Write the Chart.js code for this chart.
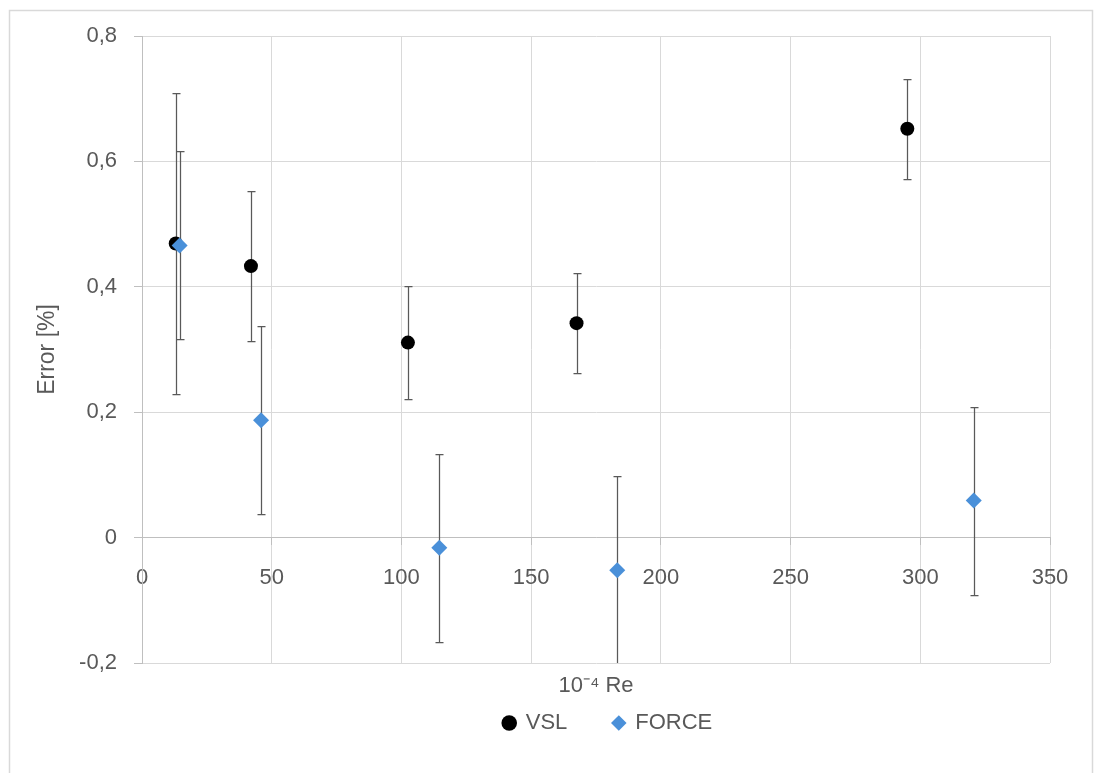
<!DOCTYPE html>
<html>
<head>
<meta charset="utf-8">
<script src="https://cdn.jsdelivr.net/npm/chart.js@4.4.0/dist/chart.umd.min.js"></script>
<style>
  html, body { margin: 0; padding: 0; background: #fff; }
  #wrap { width: 1100px; height: 773px; }
</style>
</head>
<body>
<div id="wrap"><canvas id="errChart" width="1100" height="773"></canvas></div>
<script>
// values
const vslRe = [13.0, 42.0, 102.5, 167.5, 295.0];
const vslError = [0.469, 0.433, 0.311, 0.342, 0.652];
const vslBar = [0.24, 0.12, 0.09, 0.08, 0.08];

const forceRe = [14.5, 45.9, 114.6, 183.2, 320.6];
const forceError = [0.466, 0.187, -0.016, -0.052, 0.059];
const forceBar = [0.15, 0.15, 0.15, 0.15, 0.15];

const xMin = 0, xMax = 350, xStep = 50;
const yMin = -0.2, yMax = 0.8, yStep = 0.2;

const toPoints = (xs, ys) => xs.map((x, i) => ({ x, y: ys[i] }));
const commaLabel = v => Math.abs(v) < 1e-9 ? '0' : v.toFixed(1).replace('.', ',');

Chart.defaults.font.family = '"Liberation Sans", Arial, sans-serif';
Chart.defaults.font.size = 22;
Chart.defaults.color = '#595959';

// outer chart frame
const frame = {
  id: 'frame',
  beforeDraw(chart) {
    const ctx = chart.ctx;
    ctx.save();
    ctx.strokeStyle = '#d9d9d9';
    ctx.lineWidth = 1.5;
    ctx.strokeRect(9.5, 10.5, 1083, 800);
    ctx.restore();
  }
};

// vertical error bars with caps
const errorBars = {
  id: 'errorBars',
  beforeDatasetsDraw(chart) {
    const { ctx, chartArea, scales: { x, y } } = chart;
    ctx.save();
    ctx.beginPath();
    ctx.rect(chartArea.left, chartArea.top, chartArea.width, chartArea.height);
    ctx.clip();
    ctx.strokeStyle = '#595959';
    ctx.lineWidth = 1.25;
    chart.data.datasets.forEach(ds => {
      ds.data.forEach((p, i) => {
        const px = Math.round(x.getPixelForValue(p.x)) + 0.5;
        const top = Math.round(y.getPixelForValue(p.y + ds.errorBars[i])) + 0.5;
        const bot = Math.round(y.getPixelForValue(p.y - ds.errorBars[i])) + 0.5;
        ctx.beginPath();
        ctx.moveTo(px, top); ctx.lineTo(px, bot);
        ctx.moveTo(px - 4, top); ctx.lineTo(px + 4, top);
        ctx.moveTo(px - 4, bot); ctx.lineTo(px + 4, bot);
        ctx.stroke();
      });
    });
    ctx.restore();
  }
};

// legend sits a little right of the plot centre
const legendShift = {
  id: 'legendShift',
  afterLayout(chart) {
    chart.legend.left += 12;
    chart.legend.right += 12;
  }
};

const ctx = document.getElementById('errChart').getContext('2d');
new Chart(ctx, {
  type: 'scatter',
  data: {
    datasets: [
      {
        label: 'VSL',
        data: toPoints(vslRe, vslError),
        errorBars: vslBar,
        order: 1,
        pointStyle: 'circle',
        pointRadius: 7,
        pointHoverRadius: 7,
        backgroundColor: '#000000',
        borderColor: '#000000',
        borderWidth: 0
      },
      {
        label: 'FORCE',
        data: toPoints(forceRe, forceError),
        errorBars: forceBar,
        order: 0,
        pointStyle: 'rectRot',
        pointRadius: 8,
        pointHoverRadius: 8,
        backgroundColor: '#4a90d9',
        borderColor: '#4a90d9',
        borderWidth: 0
      }
    ]
  },
  options: {
    responsive: false,
    animation: false,
    layout: { padding: { left: 0, top: 36, right: 50, bottom: 29 } },
    scales: {
      x: {
        type: 'linear',
        position: { y: 0 },
        min: xMin,
        max: xMax,
        ticks: { stepSize: xStep, padding: 20, color: '#595959' },
        grid: { color: '#d9d9d9', tickColor: '#bfbfbf', tickLength: 7 },
        border: { color: '#bfbfbf' }
      },
      y: {
        type: 'linear',
        position: 'left',
        min: yMin,
        max: yMax,
        ticks: { stepSize: yStep, padding: 17, color: '#595959', callback: v => commaLabel(v) },
        grid: { color: '#d9d9d9', tickColor: '#bfbfbf', tickLength: 8 },
        border: { color: '#bfbfbf' },
        title: { display: true, text: 'Error [%]', color: '#595959', font: { size: 23 }, padding: { top: 34, bottom: 0 } },
        afterFit(scale) { scale.width = 142; }
      }
    },
    plugins: {
      title: {
        display: true,
        position: 'bottom',
        weight: 500,
        fullSize: false,
        text: '10\u207B\u2074 Re',
        color: '#595959',
        font: { size: 22, weight: 'normal' },
        padding: { top: 10, bottom: -33.4 }
      },
      legend: {
        position: 'bottom',
        fullSize: false,
        labels: {
          usePointStyle: true,
          boxWidth: 11,
          boxHeight: 11,
          padding: 46,
          color: '#595959',
          font: { size: 22 },
          sort: (a, b) => a.datasetIndex - b.datasetIndex
        }
      },
      tooltip: { enabled: false }
    }
  },
  plugins: [frame, errorBars, legendShift]
});
</script>
</body>
</html>
